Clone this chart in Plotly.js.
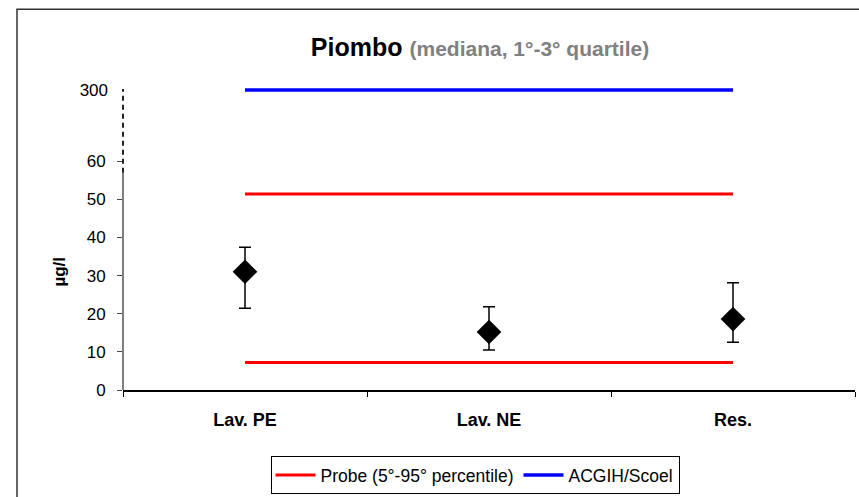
<!DOCTYPE html>
<html>
<head>
<meta charset="utf-8">
<script src="https://cdn.plot.ly/plotly-3.0.1.min.js"></script>
<style>html,body{margin:0;padding:0;background:#fff;}#chart{width:859px;height:497px;}</style>
</head>
<body>
<div id="chart"></div>
<script>
// Data
const categories = ['Lav. PE', 'Lav. NE', 'Res.'];
const medians = [31.0, 15.2, 18.6];
const q1 = [21.4, 10.5, 12.5];
const q3 = [37.4, 21.8, 28.1];
const probeP95 = [51.4, 51.4, 51.4];
const probeP5 = [7.2, 7.2, 7.2];
const acgih = [300, 300, 300];
const lowerTicks = [0, 10, 20, 30, 40, 50, 60];
const upperTicks = [300];

const font = 'Liberation Sans, Arial, sans-serif';

const traces = [
  {x: categories, y: probeP95, type: 'scatter', mode: 'lines', name: 'Probe (5°-95° percentile)',
   line: {color: '#ff0000', width: 3}, legendgroup: 'probe', showlegend: true, hoverinfo: 'skip'},
  {x: categories, y: probeP5, type: 'scatter', mode: 'lines', name: 'Probe (5°-95° percentile)',
   line: {color: '#ff0000', width: 3}, legendgroup: 'probe', showlegend: false, hoverinfo: 'skip'},
  {x: categories, y: acgih, type: 'scatter', mode: 'lines', name: 'ACGIH/Scoel', yaxis: 'y2',
   line: {color: '#0000ff', width: 3.5}, showlegend: true, hoverinfo: 'skip', cliponaxis: false},
  {x: categories, y: medians, type: 'scatter', mode: 'markers', name: 'mediana', showlegend: false,
   marker: {symbol: 'diamond', size: 19, color: '#000000'},
   error_y: {type: 'data', symmetric: false,
     array: q3.map((v, i) => v - medians[i]),
     arrayminus: medians.map((v, i) => v - q1[i]),
     color: '#000000', thickness: 1.5, width: 6}}
];

const pxTop = 80, pxBot = 391;
const H = pxBot - pxTop;
const py = p => (pxBot - p) / H;
const pxL = 123, pxR = 855;
const W = pxR - pxL;
const px = p => (p - pxL) / W;

const layout = {
  width: 859, height: 497,
  margin: {l: pxL, r: 859 - pxR, t: pxTop, b: 497 - pxBot},
  paper_bgcolor: '#ffffff', plot_bgcolor: '#ffffff',
  font: {family: font, color: '#000000', size: 17},
  title: {
    text: '<b>Piombo</b> <b><span style="font-size:21px;color:#808080">(mediana, 1°-3° quartile)</span></b>',
    font: {family: font, size: 25, color: '#000000'},
    xref: 'container', x: 480 / 859, xanchor: 'center',
    yref: 'container', y: 1 - 47 / 497, yanchor: 'middle'
  },
  xaxis: {
    type: 'category', range: [-0.5, 2.5], showgrid: false, zeroline: false,
    showline: true, linecolor: '#000000', linewidth: 1.5,
    ticks: 'outside', ticklen: 5, tickcolor: '#000000', tickwidth: 1, tickson: 'boundaries',
    tickfont: {family: font, size: 18, color: '#000000', weight: 'bold'},
    ticklabelstandoff: 13, fixedrange: true
  },
  yaxis: {
    domain: [0, 0.763], range: [0, 62], showgrid: false, zeroline: false, showline: false,
    tickvals: lowerTicks, ticktext: lowerTicks.map(String),
    ticks: 'outside', ticklen: 5, tickcolor: '#444444', tickwidth: 1,
    tickfont: {family: font, size: 17, color: '#000000'}, ticklabelstandoff: 8,
    title: {text: '<b>µg/l</b>', font: {family: font, size: 17, color: '#000000'}, standoff: 16},
    fixedrange: true
  },
  yaxis2: {
    domain: [0.935, 1], range: [295, 305], anchor: 'x', showgrid: false, zeroline: false, showline: false,
    tickvals: upperTicks, ticktext: upperTicks.map(String), ticks: '',
    tickfont: {family: font, size: 17, color: '#000000'}, ticklabelstandoff: 14,
    fixedrange: true
  },
  showlegend: true,
  legend: {
    orientation: 'h', x: px(475), xanchor: 'center', y: py(456), yanchor: 'top',
    bordercolor: '#000000', borderwidth: 1, bgcolor: '#ffffff',
    font: {family: font, size: 17.5, color: '#000000'},
    itemwidth: 40, tracegroupgap: 0
  },
  shapes: [
    {type: 'line', xref: 'paper', yref: 'paper', x0: 0, x1: 0, y0: 0, y1: py(173),
     line: {color: '#555555', width: 1.5}, layer: 'above'},
    {type: 'line', xref: 'paper', yref: 'paper', x0: 0, x1: 0, y0: py(173), y1: py(89),
     line: {color: '#222222', width: 2, dash: '5px,4px'}, layer: 'above'},
    {type: 'rect', xref: 'paper', yref: 'paper', x0: px(17), x1: px(880), y0: py(9), y1: py(520),
     line: {color: '#333333', width: 1.5}, fillcolor: 'rgba(0,0,0,0)', layer: 'above'}
  ]
};

Plotly.newPlot('chart', traces, layout, {displayModeBar: false, staticPlot: true});
</script>
</body>
</html>
